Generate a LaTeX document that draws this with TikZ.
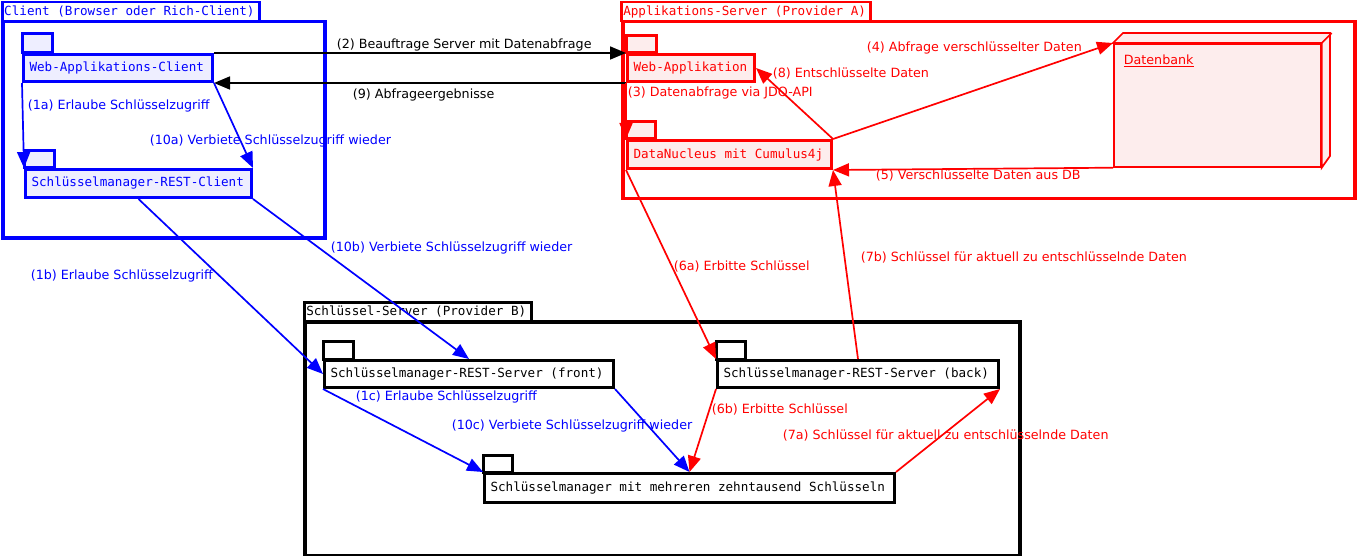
\documentclass[tikz,border=0pt]{standalone}
\usepackage{fontspec}
\setmainfont{DejaVu Sans}
\newfontfamily\monofont{DejaVu Sans Mono}
\usetikzlibrary{arrows.meta}

\definecolor{clientfill}{HTML}{EEEEFF}
\definecolor{appfill}{HTML}{FDEDED}
\newcommand\mtext[1]{\mbox{\spaceskip=0pt\relax\xspaceskip=0pt\relax#1}}

\begin{document}
\begin{tikzpicture}[
  x=1pt, y=-1pt,
  pkgframe/.style={draw, line width=3.5pt, anchor=north west, inner sep=0pt},
  pkgtitle/.style={draw, line width=2.5pt, anchor=north west, fill=white,
                   inner xsep=2pt, inner ysep=0pt,
                   font=\monofont\fontsize{12.6}{14}\selectfont},
  comp/.style={draw, line width=3pt, anchor=north west, inner xsep=6pt,
               inner ysep=0pt, minimum height=27pt,
               font=\monofont\fontsize{12.6}{14}\selectfont},
  tabbox/.style={draw, line width=3pt},
  lbl/.style={anchor=west, inner sep=0pt, font=\fontsize{12.7}{15}\selectfont},
  >={Triangle[length=16pt, width=13pt]}, line width=1.7pt
]
  \useasboundingbox (0,0) rectangle (1357,556);

  % packages
  \node[pkgframe, blue, minimum width=322pt, minimum height=216pt] (client) at (1,20) {};
  \node[pkgtitle, draw=blue, text=blue, text width=253pt, minimum height=19pt] (clienttitle) at (1,1)
       {\mtext{Client (Browser oder Rich-Client)}};
  \node[pkgframe, red, minimum width=732pt, minimum height=177pt] (appsrv) at (621,20) {};
  \node[pkgtitle, draw=red, text=red, text width=245pt, minimum height=19pt] (apptitle) at (620,1)
       {\mtext{Applikations-Server (Provider A)}};
  \node[pkgframe, minimum width=715pt, minimum height=234pt] (keysrv) at (303,320) {};
  \node[pkgtitle, text width=223pt, minimum height=19pt] (keytitle) at (303,301)
       {\mtext{Schlüssel-Server (Provider B)}};

  % components
  \node[comp, blue, fill=clientfill, text width=177pt] (wac) at (22,53) {\mtext{Web-Applikations-Client}};
  \node[comp, blue, fill=clientfill, text width=214pt, minimum height=28pt] (smc) at (24,168)
       {\mtext{Schlüsselmanager-REST-Client}};
  \node[comp, red, fill=appfill, text width=115pt] (wa) at (626,53) {\mtext{Web-Applikation}};
  \node[comp, red, fill=appfill, text width=192pt, minimum height=28pt] (dn) at (626,139)
       {\mtext{DataNucleus mit Cumulus4j}};
  \node[comp, fill=white, text width=277pt] (front) at (323,359)
       {\mtext{Schlüsselmanager-REST-Server (front)}};
  \node[comp, fill=white, text width=269pt] (back) at (716,359)
       {\mtext{Schlüsselmanager-REST-Server (back)}};
  \node[comp, fill=white, text width=398pt, minimum height=29pt] (km) at (483,472)
       {\mtext{Schlüsselmanager mit mehreren zehntausend Schlüsseln}};

  % tabs
  \draw[tabbox, blue, fill=clientfill] (wac.north west) rectangle ++(30,-19);
  \draw[tabbox, blue, fill=clientfill] (smc.north west) rectangle ++(30,-17);
  \draw[tabbox, red, fill=appfill] (wa.north west) rectangle ++(30,-17);
  \draw[tabbox, red, fill=appfill] (dn.north west) rectangle ++(29,-17);
  \draw[tabbox, fill=white] (front.north west) rectangle ++(30,-18);
  \draw[tabbox, fill=white] (back.north west) rectangle ++(29,-18);
  \draw[tabbox, fill=white] (km.north west) rectangle ++(29,-17);

  % Datenbank
  \node[draw, red, fill=appfill, anchor=north west, minimum width=207pt, minimum height=123pt,
        inner sep=0pt] (db) at (1113,43) {};
  \draw[red, fill=appfill] (db.north west) -- ++(10,-10) -- ++(207,0) -- ++(0,123)
       -- (db.south east) -- (db.north east) -- cycle;
  \draw[red] (db.north east) -- ++(10,-10);
  \node[lbl, red] (dbname) at (1123,61) {\underline{Datenbank}};

  % connectors
  \draw[->] (wac.north east) -- (wa.north west);
  \draw[->] (wa.south west) -- (wac.south east);
  \draw[->, blue] (wac.south west) -- (smc.north west);
  \draw[->, blue] (wac.south east) -- (smc.north east);
  \draw[->, blue] (smc.south) -- (front.west);
  \draw[->, blue] (smc.south east) -- (front.north);
  \draw[->, blue] (front.south west) -- (km.north west);
  \draw[->, blue] (front.south east) -- (km.north);
  \draw[->, red] (wa.south west) -- (dn.north west);
  \draw[->, red] (dn.north east) -- (db.north west);
  \draw[->, red] (db.south west) -- (dn.south east);
  \draw[->, red] (dn.south west) -- (back.north west);
  \draw[->, red] (back.south west) -- (km.north);
  \draw[->, red] (km.north east) -- (back.south east);
  \draw[->, red] (back.north) -- (dn.south east);
  \draw[->, red] (dn.north east) -- (wa.east);

  % labels
  \node[lbl] (l2) at (336,45) {(2) Beauftrage Server mit Datenabfrage};
  \node[lbl] (l9) at (352,95) {(9) Abfrageergebnisse};
  \node[lbl, blue] (l1a) at (27,106) {(1a) Erlaube Schlüsselzugriff};
  \node[lbl, blue] (l10a) at (149,141) {(10a) Verbiete Schlüsselzugriff wieder};
  \node[lbl, blue] (l1b) at (30,276) {(1b) Erlaube Schlüsselzugriff};
  \node[lbl, blue] (l10b) at (330,248) {(10b) Verbiete Schlüsselzugriff wieder};
  \node[lbl, blue] (l1c) at (355,397) {(1c) Erlaube Schlüsselzugriff};
  \node[lbl, blue] (l10c) at (451,426) {(10c) Verbiete Schlüsselzugriff wieder};
  \node[lbl, red] (l3) at (627,93) {(3) Datenabfrage via JDO-API};
  \node[lbl, red] (l4) at (866,48) {(4) Abfrage verschlüsselter Daten};
  \node[lbl, red] (l5) at (875,176) {(5) Verschlüsselte Daten aus DB};
  \node[lbl, red] (l6a) at (673,267) {(6a) Erbitte Schlüssel};
  \node[lbl, red] (l6b) at (711,410) {(6b) Erbitte Schlüssel};
  \node[lbl, red] (l7a) at (782,436) {(7a) Schlüssel für aktuell zu entschlüsselnde Daten};
  \node[lbl, red] (l7b) at (860,258) {(7b) Schlüssel für aktuell zu entschlüsselnde Daten};
  \node[lbl, red] (l8) at (772,74) {(8) Entschlüsselte Daten};
\end{tikzpicture}
\end{document}
